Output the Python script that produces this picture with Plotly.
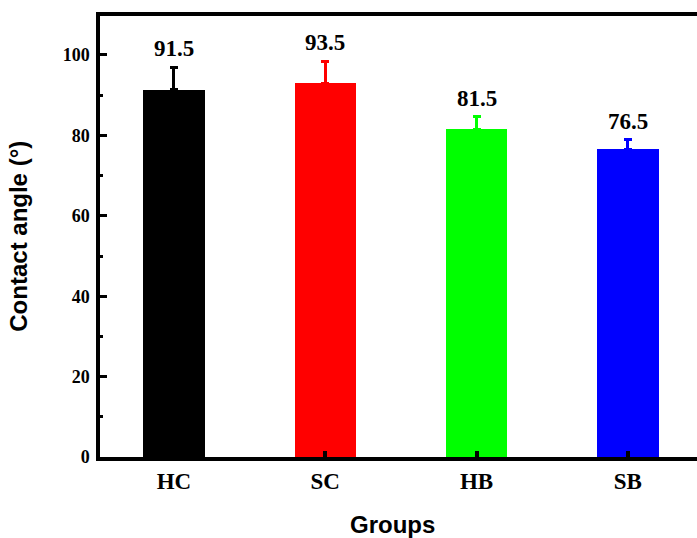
import plotly.graph_objects as go

groups = ["HC", "SC", "HB", "SB"]
means = [91.4, 93.0, 81.5, 76.5]
errors = [5.6, 5.4, 3.1, 2.4]
labels = ["91.5", "93.5", "81.5", "76.5"]
colors = ["#000000", "#FF0000", "#00FF00", "#0000FF"]
y_ticks = [0, 20, 40, 60, 80, 100]

xpos = list(range(1, len(groups) + 1))

fig = go.Figure()
for i, g in enumerate(groups):
    fig.add_trace(go.Bar(
        x=[xpos[i]], y=[means[i]], width=0.406,
        marker=dict(color=colors[i], line=dict(width=0)),
        error_y=dict(type="data", array=[errors[i]], arrayminus=[0], symmetric=False,
                     color=colors[i], thickness=3, width=4),
        showlegend=False, name=g,
    ))
    fig.add_annotation(x=xpos[i], y=means[i] + errors[i], text=labels[i],
                       showarrow=False, yanchor="bottom", yshift=4,
                       font=dict(family="Liberation Serif", size=23, color="black", weight="bold"))

fig.add_annotation(xref="paper", yref="paper", x=-0.137, y=0.5, text="Contact angle (°)",
                   textangle=-90, showarrow=False, xanchor="center", yanchor="middle",
                   font=dict(family="Liberation Sans", size=24, color="black", weight="bold"))
fig.add_annotation(xref="paper", yref="paper", x=0.49, y=-0.153, text="Groups",
                   showarrow=False, xanchor="center", yanchor="middle",
                   font=dict(family="Liberation Sans", size=24, color="black", weight="bold"))

fig.update_layout(
    width=697, height=538,
    margin=dict(l=100, r=0, t=16, b=81),
    plot_bgcolor="white", paper_bgcolor="white",
    bargap=0,
)
fig.update_xaxes(
    range=[0.511, 4.457], tickvals=xpos, ticktext=groups,
    showline=True, linewidth=4, linecolor="black", mirror=True,
    ticks="inside", ticklen=6, tickwidth=4, tickcolor="black",
    showgrid=False, zeroline=False,
    tickfont=dict(family="Liberation Serif", size=23, color="black", weight="bold"),
)
fig.update_yaxes(
    range=[0, 109.7], tickvals=y_ticks,
    showline=True, linewidth=3.5, linecolor="black", mirror=False,
    ticks="inside", ticklen=7, tickwidth=3, tickcolor="black",
    minor=dict(tickvals=[10, 30, 50, 70, 90], ticks="inside", ticklen=3, tickwidth=3, tickcolor="black"),
    showgrid=False, zeroline=False, ticklabelstandoff=3,
    tickfont=dict(family="Liberation Serif", size=18, color="black", weight="bold"),
)

fig.write_html("out.html")
